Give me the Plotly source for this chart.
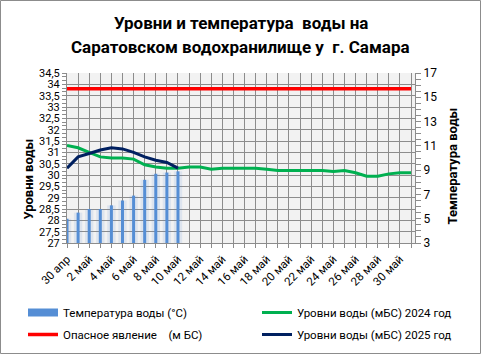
import pandas as pd
import plotly.graph_objects as go

# ---- data ----
dates = pd.date_range("2025-04-30", "2025-05-31", freq="D")
tick_labels = ["30 апр", "", "2 май", "", "4 май", "", "6 май", "", "8 май", "", "10 май", "",
               "12 май", "", "14 май", "", "16 май", "", "18 май", "", "20 май", "",
               "22 май", "", "24 май", "", "26 май", "", "28 май", "", "30 май", ""]
level_2024 = [31.3, 31.2, 31.0, 30.8, 30.75, 30.75, 30.7, 30.45, 30.35, 30.3, 30.3, 30.35,
              30.35, 30.25, 30.3, 30.3, 30.3, 30.3, 30.25, 30.2, 30.2, 30.2, 30.2, 30.2,
              30.15, 30.2, 30.1, 29.95, 29.95, 30.05, 30.1, 30.1]
level_2025 = [30.3, 30.8, 30.95, 31.1, 31.2, 31.15, 31.0, 30.8, 30.65, 30.55, 30.3]
temp_2025 = [5.0, 5.5, 5.8, 5.8, 6.1, 6.5, 6.9, 8.2, 8.7, 8.8, 8.9]
danger_level = [33.8] * len(dates)

FONT = "Roboto"
BAR_C = "#558ed5"
GRID_C = "#8c8c8c"

L, R, T, B = 67, 66, 73, 111
W, H = 481, 354
pw, ph = W - L - R, H - T - B


def px_x(x):
    return (x - L) / pw


def px_y(y):
    return (T + ph - y) / ph


fig = go.Figure()
# halo + solid bars (temperature, right axis)
fig.add_trace(go.Bar(x=dates[:len(temp_2025)], y=temp_2025, yaxis="y",
                     width=0.75 * 86400000, marker=dict(color="rgba(85,142,213,0.13)", line_width=0),
                     showlegend=False, hoverinfo="skip"))
fig.add_trace(go.Bar(x=dates[:len(temp_2025)], y=temp_2025, yaxis="y",
                     width=0.27 * 86400000, marker=dict(color=BAR_C, line_width=0),
                     showlegend=False, name="Температура воды (°C)"))
# legend entries (left column)
fig.add_trace(go.Scatter(x=[None], y=[None], yaxis="y2", mode="lines", legend="legend",
                         legendgroup="a",
                         line=dict(color=BAR_C, width=8), name="Температура воды (°C)"))
fig.add_trace(go.Scatter(x=dates, y=danger_level, yaxis="y2", mode="lines", legend="legend",
                         legendgroup="b",
                         line=dict(color="#ff0000", width=3.5), name="Опасное явление    (м БС)"))
# right column
fig.add_trace(go.Scatter(x=dates, y=level_2024, yaxis="y2", mode="lines", legend="legend2",
                         legendgroup="c",
                         line=dict(color="#00b050", width=3), name="Уровни воды (мБС) 2024 год"))
fig.add_trace(go.Scatter(x=dates[:len(level_2025)], y=level_2025, yaxis="y2", mode="lines",
                         legend="legend2", legendgroup="d",
                         line=dict(color="#002060", width=3), name="Уровни воды (мБС) 2025 год"))

leg_common = dict(orientation="v", xanchor="left", yanchor="top",
                  font=dict(size=11.5, family=FONT), bgcolor="rgba(0,0,0,0)",
                  tracegroupgap=3)

fig.update_layout(
    width=W, height=H, margin=dict(l=L, r=R, t=T, b=B, autoexpand=False),
    paper_bgcolor="white", plot_bgcolor="#f2f2f2",
    separators=", ", barmode="overlay",
    font=dict(family=FONT, size=12, color="black"),
    showlegend=True,
    legend=dict(x=px_x(23), y=px_y(298), **leg_common),
    legend2=dict(x=px_x(257), y=px_y(298), **leg_common),
    xaxis=dict(type="date", range=[dates[0], dates[-1] + pd.Timedelta(hours=8.5)],
               tickvals=list(dates), ticktext=tick_labels, tickangle=-45,
               showgrid=True, gridcolor=GRID_C, gridwidth=1, automargin=False,
               showline=True, linecolor=GRID_C, ticks="outside", ticklen=4,
               tickcolor=GRID_C, tickfont=dict(size=11.5), zeroline=False),
    yaxis=dict(range=[3, 17], side="right", tickvals=[3, 5, 7, 9, 11, 13, 15, 17],
               showgrid=False, showline=True, linecolor=GRID_C, ticks="outside",
               ticklen=5, tickcolor=GRID_C, zeroline=False, automargin=False,
               minor=dict(dtick=0.5, ticks="outside", ticklen=5, tickcolor=GRID_C, showgrid=False),
               tickfont=dict(size=12)),
    yaxis2=dict(range=[27, 34.5], side="left", overlaying="y", dtick=0.5, tick0=27,
                showgrid=True, gridcolor=GRID_C, gridwidth=1, automargin=False,
                showline=True, linecolor=GRID_C, ticks="outside", ticklen=4,
                tickcolor=GRID_C, zeroline=False, tickformat=".1~f",
                minor=dict(dtick=0.5 / 3, ticks="outside", ticklen=4, tickcolor=GRID_C, showgrid=False),
                tickfont=dict(size=11)),
)

# title lines
fig.add_annotation(text="<b>Уровни и температура  воды на</b>", xref="paper", yref="paper",
                   x=px_x(240.5), y=px_y(23), showarrow=False, xanchor="center", yanchor="middle",
                   font=dict(size=17, family=FONT))
fig.add_annotation(text="<b>Саратовском водохранилище у  г. Самара</b>", xref="paper", yref="paper",
                   x=px_x(240.5), y=px_y(47), showarrow=False, xanchor="center", yanchor="middle",
                   font=dict(size=17, family=FONT))

# axis titles
fig.add_annotation(text="<b>Уровни воды</b>", textangle=-90, xref="paper", yref="paper",
                   x=px_x(18), y=px_y(179), showarrow=False,
                   font=dict(size=13, family=FONT))
fig.add_annotation(text="<b>Температура воды</b>", textangle=-90, xref="paper", yref="paper",
                   x=px_x(461), y=px_y(166), showarrow=False,
                   font=dict(size=13, family=FONT))

# outer chart border
fig.add_shape(type="rect", xref="paper", yref="paper",
              x0=px_x(0.5), x1=px_x(W - 0.5), y0=px_y(H - 0.5), y1=px_y(0.5),
              line=dict(color="#8c8c8c", width=1), fillcolor="rgba(0,0,0,0)", layer="below")

fig.write_html("out.html")
